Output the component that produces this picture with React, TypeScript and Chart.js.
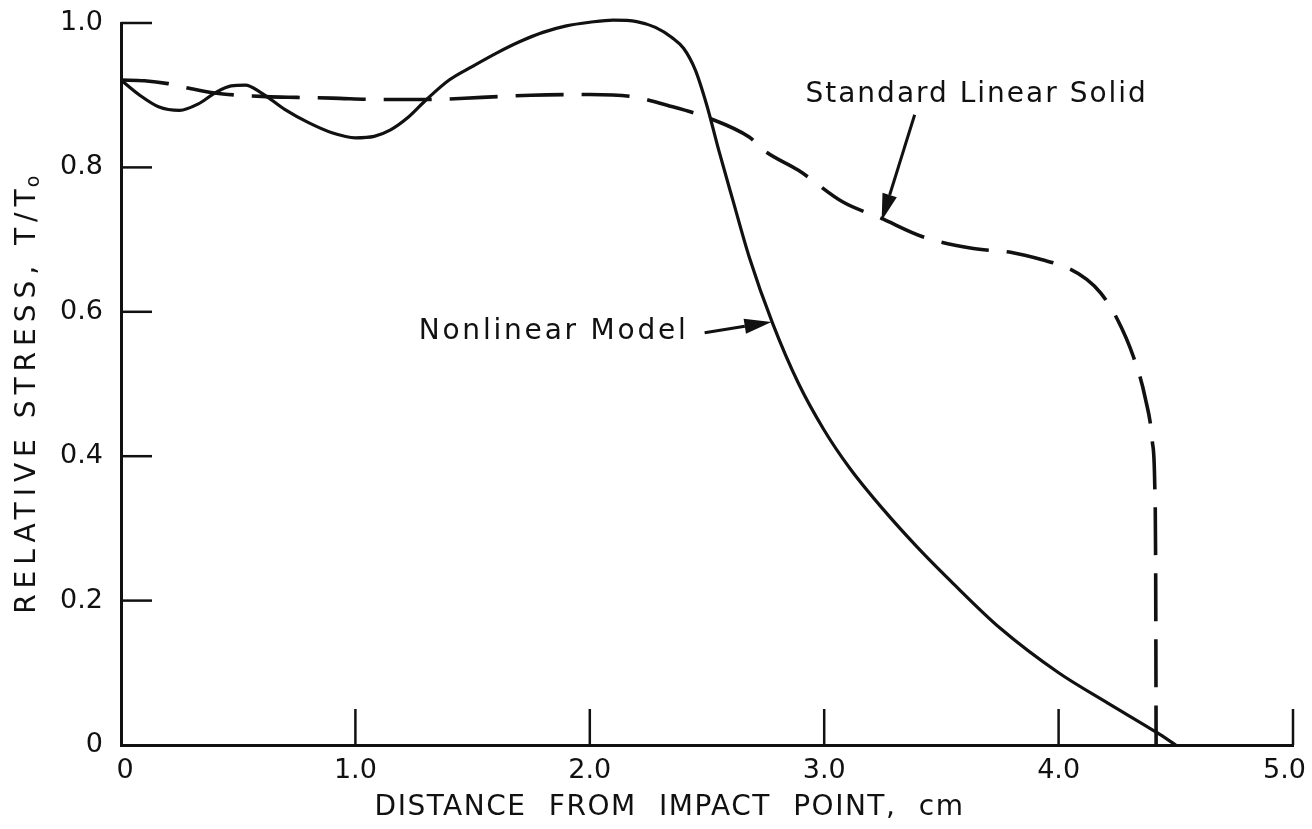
import React, { useEffect, useRef } from 'react';
import { Chart, registerables } from 'chart.js';

Chart.register(...registerables);

// Nonlinear model: relative stress T/T0 against distance from the impact point (cm)
const nonlinearX = [
  0.0, 0.08, 0.16, 0.25, 0.33, 0.4, 0.47, 0.53, 0.6, 0.7, 0.8, 0.9, 1.0, 1.08, 1.15, 1.22,
  1.3, 1.4, 1.5, 1.6, 1.7, 1.8, 1.9, 2.0, 2.1, 2.2, 2.28, 2.35, 2.4, 2.45, 2.5, 2.55, 2.61,
  2.68, 2.78, 2.89, 3.0, 3.11, 3.25, 3.4, 3.54, 3.75, 4.0, 4.21, 4.42, 4.5,
];
const nonlinearY = [
  0.921, 0.9, 0.884, 0.879, 0.888, 0.903, 0.913, 0.914, 0.903, 0.88, 0.862, 0.848, 0.841,
  0.843, 0.852, 0.868, 0.893, 0.921, 0.94, 0.958, 0.974, 0.987, 0.996, 1.001, 1.004, 1.002,
  0.994, 0.98, 0.965, 0.935, 0.885, 0.824, 0.755, 0.676, 0.584, 0.501, 0.436, 0.383, 0.327,
  0.273, 0.227, 0.162, 0.1, 0.058, 0.017, 0.0,
];

// Standard linear solid model
const slsX = [
  0.0, 0.1, 0.2, 0.3, 0.4, 0.5, 0.62, 0.75, 0.9, 1.1, 1.3, 1.54, 1.75, 2.0, 2.18, 2.33,
  2.51, 2.68, 2.75, 2.89, 3.08, 3.24, 3.42, 3.63, 3.8, 3.93, 4.03, 4.12, 4.18, 4.25, 4.32,
  4.37, 4.4, 4.41, 4.414, 4.416,
];
const slsY = [
  0.921, 0.92, 0.916, 0.909, 0.903, 0.9, 0.898, 0.897, 0.896, 0.894, 0.894, 0.897, 0.9,
  0.901, 0.898, 0.886, 0.868, 0.842, 0.822, 0.796, 0.752, 0.73, 0.704, 0.688, 0.682, 0.672,
  0.662, 0.645, 0.626, 0.59, 0.537, 0.48, 0.42, 0.363, 0.25, 0.0,
];

const xTickLabels = ['0', '1.0', '2.0', '3.0', '4.0', '5.0'];
const yTickLabels = ['0', '0.2', '0.4', '0.6', '0.8', '1.0'];

const xTitle = 'DISTANCE FROM IMPACT POINT, cm';
const yTitle = 'RELATIVE STRESS, T/T';
const yTitleSub = 'o';
const slsLabel = 'Standard Linear Solid';
const nonlinearLabel = 'Nonlinear Model';

const INK = '#111';
const FONT = '"DejaVu Sans", "Liberation Sans", sans-serif';

function drawArrow(ctx: CanvasRenderingContext2D, x0: number, y0: number, x1: number, y1: number) {
  const ang = Math.atan2(y1 - y0, x1 - x0);
  const headLen = 27;
  const headHalf = 7.5;
  const bx = x1 - headLen * Math.cos(ang);
  const by = y1 - headLen * Math.sin(ang);
  ctx.beginPath();
  ctx.moveTo(x0, y0);
  ctx.lineTo(bx, by);
  ctx.stroke();
  ctx.beginPath();
  ctx.moveTo(x1, y1);
  ctx.lineTo(bx + headHalf * Math.sin(ang), by - headHalf * Math.cos(ang));
  ctx.lineTo(bx - headHalf * Math.sin(ang), by + headHalf * Math.cos(ang));
  ctx.closePath();
  ctx.fill();
}

// Tick labels, inward tick marks, axis titles and the callouts with their arrows
const decorPlugin = {
  id: 'decor',
  afterDatasetsDraw(chart: any) {
    const { ctx, chartArea } = chart;
    const xs = chart.scales.x;
    const ys = chart.scales.y;
    ctx.save();
    ctx.strokeStyle = INK;
    ctx.fillStyle = INK;
    ctx.lineCap = 'butt';

    // tick marks pointing into the plot, and their labels outside the axes
    ctx.lineWidth = 2.5;
    ctx.font = `27px ${FONT}`;
    ctx.textBaseline = 'middle';
    ys.ticks.forEach((t: any, i: number) => {
      const py = ys.getPixelForValue(t.value);
      ctx.textAlign = 'right';
      ctx.fillText(yTickLabels[i], chartArea.left - 18, py);
      if (t.value <= 0) return;
      ctx.beginPath();
      ctx.moveTo(chartArea.left, py);
      ctx.lineTo(chartArea.left + 31, py);
      ctx.stroke();
    });
    xs.ticks.forEach((t: any, i: number) => {
      const px = xs.getPixelForValue(t.value);
      const label = xTickLabels[i];
      const half = ctx.measureText(label).width / 2;
      // keep the last label inside the canvas
      const cx = Math.min(px + (i === 0 ? 4 : 0), chart.width - 6 - half);
      ctx.textAlign = 'center';
      ctx.fillText(label, cx, chartArea.bottom + 26);
      if (t.value <= 0) return;
      ctx.beginPath();
      ctx.moveTo(px, chartArea.bottom);
      ctx.lineTo(px, chartArea.bottom - 36);
      ctx.stroke();
    });

    // x axis title
    ctx.font = `28px ${FONT}`;
    ctx.textAlign = 'center';
    (ctx as any).letterSpacing = '1.5px';
    (ctx as any).wordSpacing = '12px';
    ctx.fillText(xTitle, xs.getPixelForValue(2.34), chartArea.bottom + 63);
    (ctx as any).wordSpacing = '0px';

    // y axis title, rotated, with subscript
    ctx.save();
    ctx.translate(28, ys.getPixelForValue(0.492));
    ctx.rotate(-Math.PI / 2);
    (ctx as any).letterSpacing = '6px';
    ctx.font = `28px ${FONT}`;
    const mainW = ctx.measureText(yTitle).width;
    ctx.font = `19px ${FONT}`;
    const subW = ctx.measureText(yTitleSub).width;
    const start = -(mainW + subW) / 2;
    ctx.textAlign = 'left';
    ctx.font = `28px ${FONT}`;
    ctx.fillText(yTitle, start, 0);
    ctx.font = `19px ${FONT}`;
    ctx.fillText(yTitleSub, start + mainW - 4, 6);
    ctx.restore();

    // callouts
    ctx.font = `28px ${FONT}`;
    ctx.textAlign = 'left';
    ctx.textBaseline = 'middle';
    (ctx as any).letterSpacing = '2px';
    ctx.fillText(slsLabel, xs.getPixelForValue(2.92), ys.getPixelForValue(0.9));
    (ctx as any).letterSpacing = '2.8px';
    ctx.fillText(nonlinearLabel, xs.getPixelForValue(1.27), ys.getPixelForValue(0.572));
    (ctx as any).letterSpacing = '0px';

    ctx.lineWidth = 3;
    drawArrow(
      ctx,
      xs.getPixelForValue(3.386), ys.getPixelForValue(0.873),
      xs.getPixelForValue(3.245), ys.getPixelForValue(0.726),
    );
    drawArrow(
      ctx,
      xs.getPixelForValue(2.49), ys.getPixelForValue(0.571),
      xs.getPixelForValue(2.775), ys.getPixelForValue(0.586),
    );
    ctx.restore();
  },
};

export default function App() {
  const canvasRef = useRef<HTMLCanvasElement | null>(null);

  useEffect(() => {
    if (!canvasRef.current) return;
    const chart = new Chart(canvasRef.current, {
      type: 'line',
      data: {
        datasets: [
          {
            label: nonlinearLabel,
            data: nonlinearX.map((x, i) => ({ x, y: nonlinearY[i] })),
            borderColor: INK,
            borderWidth: 3.2,
            pointRadius: 0,
            cubicInterpolationMode: 'monotone',
            fill: false,
            clip: false,
          },
          {
            label: slsLabel,
            data: slsX.map((x, i) => ({ x, y: slsY[i] })),
            borderColor: INK,
            borderWidth: 3.6,
            borderDash: [48, 18],
            pointRadius: 0,
            cubicInterpolationMode: 'monotone',
            fill: false,
            clip: false,
          },
        ],
      },
      options: {
        animation: false,
        responsive: true,
        maintainAspectRatio: false,
        layout: { padding: { top: 23, right: 19, left: 0, bottom: 0 } },
        plugins: {
          legend: { display: false },
          tooltip: { enabled: false },
          title: { display: false },
        },
        events: [],
        scales: {
          x: {
            type: 'linear',
            min: 0,
            max: 5,
            grid: { display: false, drawTicks: false },
            border: { display: true, color: INK, width: 3 },
            ticks: { stepSize: 1, display: false },
            afterFit: (scale: any) => {
              scale.height = 84;
            },
          },
          y: {
            type: 'linear',
            min: 0,
            max: 1,
            grid: { display: false, drawTicks: false },
            border: { display: true, color: INK, width: 3 },
            ticks: { stepSize: 0.2, display: false },
            afterFit: (scale: any) => {
              scale.width = 121;
            },
          },
        },
      },
      plugins: [decorPlugin],
    });
    return () => chart.destroy();
  }, []);

  return (
    <div
      style={{
        position: 'fixed',
        left: 0,
        top: 0,
        width: 1312,
        height: 829,
        background: '#fff',
      }}
    >
      <canvas ref={canvasRef} />
    </div>
  );
}
